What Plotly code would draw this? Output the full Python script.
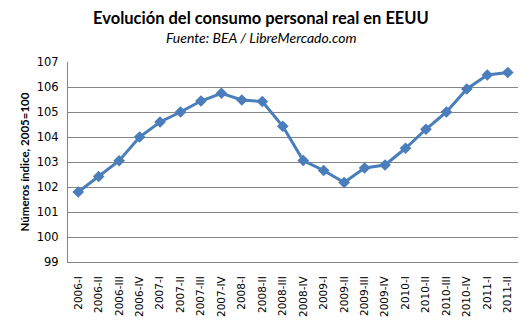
import plotly.graph_objects as go

categories = ["2006-I", "2006-II", "2006-III", "2006-IV", "2007-I", "2007-II", "2007-III", "2007-IV",
              "2008-I", "2008-II", "2008-III", "2008-IV", "2009-I", "2009-II", "2009-III", "2009-IV",
              "2010-I", "2010-II", "2010-III", "2010-IV", "2011-I", "2011-II"]
values = [101.8, 102.42, 103.05, 104.0, 104.6, 105.0, 105.44, 105.75, 105.48, 105.42, 104.43,
          103.06, 102.66, 102.18, 102.76, 102.88, 103.55, 104.31, 105.0, 105.92, 106.48, 106.58]
y_ticks = [99, 100, 101, 102, 103, 104, 105, 106, 107]

fig = go.Figure()
fig.add_trace(go.Scatter(
    x=categories, y=values, mode="lines+markers",
    line=dict(color="#4A7EBB", width=3),
    marker=dict(symbol="diamond", size=9, color="#4A7EBB"),
    showlegend=False, hoverinfo="skip"))

fig.update_layout(
    width=530, height=326,
    margin=dict(l=68, r=12, t=62, b=64),
    paper_bgcolor="white", plot_bgcolor="white",
)
fig.add_annotation(text="<b>Evolución del consumo personal real en EEUU</b>", xref="paper", yref="paper",
                   x=(261 - 68) / 450, y=1 + (62 - 18) / 200, showarrow=False,
                   xanchor="center", yanchor="middle",
                   font=dict(family="Lato", size=16.5, color="black"))
fig.add_annotation(text="<i>Fuente: BEA / LibreMercado.com</i>", xref="paper", yref="paper",
                   x=(261 - 68) / 450, y=1 + (62 - 37) / 200, showarrow=False,
                   xanchor="center", yanchor="middle",
                   font=dict(family="Lato", size=14, color="black"))

fig.update_xaxes(
    type="category", showgrid=False, showline=True, linecolor="#868686", linewidth=1,
    tickangle=-90, tickfont=dict(family="DejaVu Sans", size=10.5, color="black"),
    ticks="", ticklabelstandoff=9, automargin=False, range=[-0.5, len(categories) - 0.5])
fig.update_yaxes(
    range=[99, 107], tickvals=y_ticks, showgrid=True, gridcolor="#868686", gridwidth=1,
    showline=True, linecolor="#868686", linewidth=1, zeroline=False, automargin=False,
    tickfont=dict(family="DejaVu Sans", size=11.5, color="black"), ticks="", ticklabelstandoff=6,
    title=dict(text="<b>Números índice, 2005=100</b>", font=dict(family="Lato", size=11.5, color="black"),
               standoff=4))

fig.write_html("out.html")
